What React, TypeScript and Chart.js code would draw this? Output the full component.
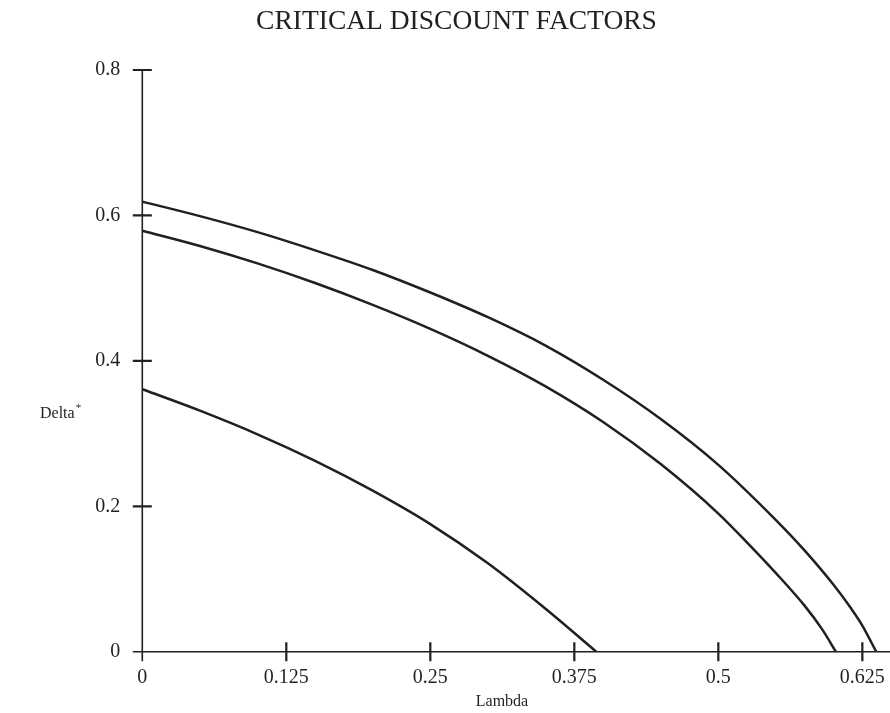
import React, { useEffect, useRef } from "react";
import { Chart, registerables } from "chart.js";

Chart.register(...registerables);

const chartTitle = "CRITICAL DISCOUNT FACTORS";
const xAxisTitle = "Lambda";
const yAxisTitle = "Delta";

const xTicks = [0, 0.125, 0.25, 0.375, 0.5, 0.625];
const xTickLabels = ["0", "0.125", "0.25", "0.375", "0.5", "0.625"];
const yTicks = [0, 0.2, 0.4, 0.6, 0.8];
const yTickLabels = ["0", "0.2", "0.4", "0.6", "0.8"];

const lambdaTop = [0, 0.05, 0.1, 0.15, 0.2, 0.25, 0.3, 0.35, 0.4, 0.45, 0.5, 0.55, 0.575, 0.6, 0.615, 0.625, 0.637];
const deltaTop = [0.619, 0.599, 0.577, 0.552, 0.525, 0.494, 0.46, 0.421, 0.374, 0.32, 0.257, 0.181, 0.139, 0.092, 0.06, 0.036, 0];

const lambdaMid = [0, 0.05, 0.1, 0.15, 0.2, 0.25, 0.3, 0.35, 0.4, 0.45, 0.5, 0.525, 0.55, 0.575, 0.59, 0.602];
const deltaMid = [0.579, 0.558, 0.534, 0.507, 0.477, 0.444, 0.407, 0.365, 0.316, 0.258, 0.19, 0.15, 0.108, 0.063, 0.031, 0];

const lambdaLow = [0, 0.05, 0.1, 0.15, 0.2, 0.25, 0.3, 0.35, 0.394];
const deltaLow = [0.361, 0.3315, 0.299, 0.2625, 0.2215, 0.1755, 0.1215, 0.059, 0];

const INK = "#231f20";
const SERIF = "'Liberation Serif', 'Times New Roman', serif";

function pts(xs: number[], ys: number[]) {
  return xs.map((x, i) => ({ x, y: ys[i] }));
}

const axesPlugin = {
  id: "customAxes",
  afterDraw(chart: any) {
    const ctx = chart.ctx;
    const xs = chart.scales.x;
    const ys = chart.scales.y;
    const x0 = xs.getPixelForValue(0);
    const y0 = ys.getPixelForValue(0);
    const yTop = ys.getPixelForValue(0.8);
    const right = chart.chartArea.right;
    ctx.save();
    ctx.strokeStyle = INK;
    ctx.fillStyle = INK;
    ctx.lineWidth = 1.6;
    ctx.beginPath();
    ctx.moveTo(x0, yTop);
    ctx.lineTo(x0, y0 + 9.5);
    ctx.moveTo(x0 - 9.5, y0);
    ctx.lineTo(right, y0);
    ctx.stroke();
    ctx.lineWidth = 2.2;
    ctx.beginPath();
    xTicks.forEach((v) => {
      if (v === 0) return;
      const px = xs.getPixelForValue(v);
      ctx.moveTo(px, y0 - 9.5);
      ctx.lineTo(px, y0 + 9.5);
    });
    yTicks.forEach((v) => {
      if (v === 0) return;
      const py = ys.getPixelForValue(v);
      ctx.moveTo(x0 - 9.5, py);
      ctx.lineTo(x0 + 9.5, py);
    });
    ctx.stroke();
    ctx.font = `20px ${SERIF}`;
    ctx.textAlign = "center";
    ctx.textBaseline = "alphabetic";
    xTicks.forEach((v, i) => {
      ctx.fillText(xTickLabels[i], xs.getPixelForValue(v), y0 + 31);
    });
    ctx.textAlign = "right";
    ctx.textBaseline = "middle";
    yTicks.forEach((v, i) => {
      ctx.fillText(yTickLabels[i], x0 - 22, ys.getPixelForValue(v));
    });
    ctx.font = `16px ${SERIF}`;
    ctx.textAlign = "center";
    ctx.textBaseline = "alphabetic";
    ctx.fillText(xAxisTitle, 502, 706);
    ctx.textAlign = "left";
    ctx.fillText(yAxisTitle, 40, 418);
    const w = ctx.measureText(yAxisTitle).width;
    ctx.font = `11px ${SERIF}`;
    ctx.fillText("*", 40 + w + 1, 411);
    ctx.font = `27.5px ${SERIF}`;
    ctx.textAlign = "center";
    ctx.fillText(chartTitle, 456.5, 29);
    ctx.restore();
  },
};

export default function App() {
  const ref = useRef<HTMLCanvasElement>(null);
  useEffect(() => {
    if (!ref.current) return;
    const ds = (xs: number[], ys: number[]) => ({
      data: pts(xs, ys),
      borderColor: INK,
      borderWidth: 2.5,
      pointRadius: 0,
      fill: false,
      showLine: true,
      tension: 0.4,
      cubicInterpolationMode: "monotone" as const,
    });
    const chart = new Chart(ref.current, {
      type: "scatter",
      data: {
        datasets: [ds(lambdaTop, deltaTop), ds(lambdaMid, deltaMid), ds(lambdaLow, deltaLow)],
      },
      options: {
        animation: false,
        responsive: false,
        maintainAspectRatio: false,
        layout: { padding: { left: 142.3, top: 70, right: 0, bottom: 713 - 651.7 } },
        plugins: { legend: { display: false }, tooltip: { enabled: false }, title: { display: false } },
        scales: {
          x: { type: "linear", display: false, min: 0, max: 0.649 },
          y: { type: "linear", display: false, min: 0, max: 0.8 },
        },
      },
      plugins: [axesPlugin],
    });
    return () => chart.destroy();
  }, []);
  return (
    <div style={{ position: "fixed", left: 0, top: 0, width: 890, height: 713, background: "#fff" }}>
      <canvas ref={ref} width={890} height={713} style={{ width: 890, height: 713 }} />
    </div>
  );
}
